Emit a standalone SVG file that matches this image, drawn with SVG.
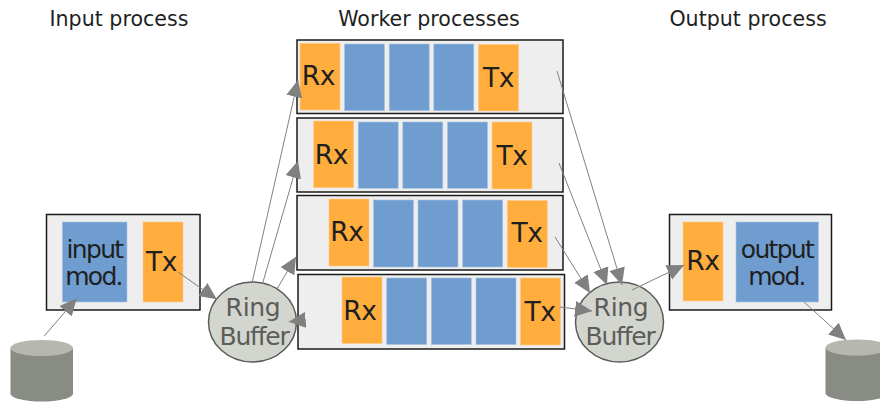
<svg xmlns="http://www.w3.org/2000/svg" width="880" height="403" viewBox="0 0 880 403">
<defs>
<marker id="a" markerUnits="userSpaceOnUse" markerWidth="18" markerHeight="18" refX="17" refY="9" orient="auto"><path d="M0 1L17 9L0 17Z" fill="#808080"/></marker>
</defs>
<style>
text{font-family:"DejaVu Sans",sans-serif;text-anchor:middle;fill:#1f1f1f}
.t{font-size:20.6px}
.l{font-size:26.500px;letter-spacing:-.4px}
.m{font-size:25px;letter-spacing:-1.700px}
.r{font-size:25px;fill:#5b5d59;letter-spacing:-.3px}
.s{font-size:25px;fill:#5b5d59;letter-spacing:-1.200px}
.box{fill:#eeeeee;stroke:#1a1a1a;stroke-width:1.500}
.o{fill:#ffae3e;stroke:#ffc98a;stroke-width:.6}
.b{fill:#709dd0;stroke:#a9c4e2;stroke-width:.6}
.ring{fill:#d3d5cf;stroke:#5a5c58;stroke-width:1.500}
.cb{fill:#898b85}
.ct{fill:#b5b7b0}
#conn line{stroke:#808080;stroke-width:1;marker-end:url(#a)}
</style>
<text class="t" x="119" y="26">Input process</text>
<text class="t" x="429" y="26">Worker processes</text>
<text class="t" x="748" y="26">Output process</text>

<g id="input-disk"><path class="cb" d="M10.500 348V394A31.300 8 0 0 0 73 394V348Z"/><ellipse class="ct" cx="41.700" cy="348" rx="31.300" ry="8"/></g>
<g id="output-disk"><path class="cb" d="M825.500 347.500V393.500A31.300 8 0 0 0 888 393.500V347.500Z"/><ellipse class="ct" cx="856.800" cy="347.500" rx="31.300" ry="8"/></g>

<g id="input-process">
<rect class="box" x="46.500" y="214.500" width="153.500" height="95.500"/>
<rect class="b" x="62.300" y="222" width="64.700" height="80"/>
<rect class="o" x="143" y="222" width="40" height="80"/>
<text class="m" x="94.500" y="258">input</text><text class="m" x="93.500" y="285">mod.</text>
<text class="l" x="161.500" y="271">Tx</text>
</g>

<g id="worker-1">
<rect class="box" x="297" y="40" width="266" height="73.500"/>
<rect class="o" x="300" y="43.300" width="40" height="66.700"/>
<rect class="b" x="344.500" y="44" width="40" height="66.700"/><rect class="b" x="389.200" y="44" width="40" height="66.700"/><rect class="b" x="433.800" y="44" width="40" height="66.700"/>
<rect class="o" x="478.500" y="44.500" width="40" height="66.500"/>
<text class="l" x="318.500" y="85">Rx</text><text class="l" x="498.500" y="87">Tx</text>
</g>
<g id="worker-2">
<rect class="box" x="297" y="118" width="266" height="74"/>
<rect class="o" x="313.700" y="121" width="40" height="66.700"/>
<rect class="b" x="358.200" y="122" width="40" height="66.300"/><rect class="b" x="402.800" y="122" width="40" height="66.300"/><rect class="b" x="447.500" y="122" width="40" height="66.300"/>
<rect class="o" x="492" y="122" width="40" height="67"/>
<text class="l" x="331.500" y="164">Rx</text><text class="l" x="512" y="165">Tx</text>
</g>
<g id="worker-3">
<rect class="box" x="297" y="195.500" width="266" height="74.500"/>
<rect class="o" x="329" y="199" width="40" height="67"/>
<rect class="b" x="373.500" y="200" width="40" height="67"/><rect class="b" x="418" y="200" width="40" height="67"/><rect class="b" x="462.700" y="200" width="40" height="67"/>
<rect class="o" x="507.300" y="200.500" width="40" height="67"/>
<text class="l" x="347" y="241">Rx</text><text class="l" x="527" y="242">Tx</text>
</g>
<g id="worker-4">
<rect class="box" x="298" y="274.500" width="266.500" height="74.500"/>
<rect class="o" x="342" y="277" width="40" height="66.500"/>
<rect class="b" x="386.700" y="278" width="40" height="66.500"/><rect class="b" x="431.300" y="278" width="40" height="66.500"/><rect class="b" x="476" y="278" width="40" height="66.500"/>
<rect class="o" x="520.500" y="278" width="40" height="67"/>
<text class="l" x="360" y="320">Rx</text><text class="l" x="540" y="321">Tx</text>
</g>

<g id="output-process">
<rect class="box" x="669.500" y="214.500" width="162" height="95.500"/>
<rect class="o" x="683" y="222" width="40" height="79"/>
<rect class="b" x="736" y="222" width="82.500" height="80"/>
<text class="l" x="703" y="270">Rx</text>
<text class="m" x="777" y="258">output</text><text class="m" x="776.500" y="285">mod.</text>
</g>

<g id="ring-in"><ellipse class="ring" cx="252.500" cy="322" rx="44" ry="40"/><text class="r" x="253" y="316">Ring</text><text class="s" x="254" y="345">Buffer</text></g>
<g id="ring-out"><ellipse class="ring" cx="619.500" cy="322" rx="44" ry="40"/><text class="r" x="621" y="316">Ring</text><text class="s" x="620" y="345">Buffer</text></g>

<g id="conn">
<line x1="44.300" y1="336" x2="76.700" y2="298.300"/>
<line x1="178" y1="272" x2="216.700" y2="299.300"/>
<line x1="252.300" y1="281.700" x2="298" y2="80"/>
<line x1="263" y1="282" x2="298" y2="161"/>
<line x1="277" y1="289" x2="296" y2="256.700"/>
<line x1="306" y1="320" x2="288.700" y2="321.700"/>
<line x1="557" y1="71" x2="622" y2="285"/>
<line x1="559" y1="163" x2="607" y2="285"/>
<line x1="555" y1="237" x2="590" y2="293"/>
<line x1="560" y1="307" x2="592" y2="311"/>
<line x1="632" y1="290" x2="684" y2="265"/>
<line x1="804" y1="302" x2="846" y2="340"/>
</g>
</svg>
